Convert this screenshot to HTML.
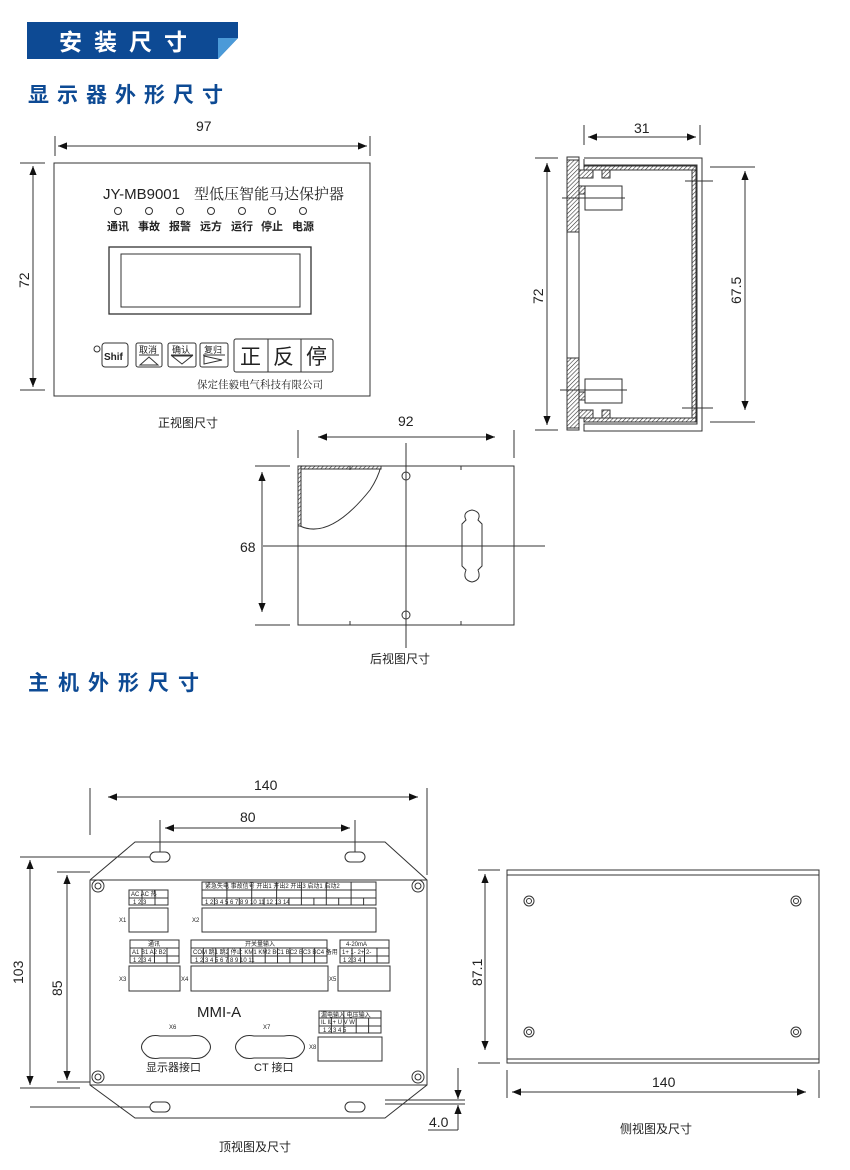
<!DOCTYPE html>
<html><head><meta charset="utf-8"><style>
body{margin:0;background:#fff}
svg{display:block}
text{font-family:"Liberation Sans","Noto Sans CJK SC",sans-serif;fill:#222}
.s{font-family:"Liberation Serif","Noto Serif CJK SC",serif}
</style></head><body>
<svg width="850" height="1170" viewBox="0 0 850 1170" xmlns="http://www.w3.org/2000/svg">
<defs>
<marker id="a" viewBox="0 0 10 10" refX="10" refY="5" markerWidth="9" markerHeight="9" orient="auto-start-reverse" markerUnits="userSpaceOnUse"><path d="M0,1L10,5L0,9z" fill="#111"/></marker>
<pattern id="h" width="3" height="3" patternUnits="userSpaceOnUse" patternTransform="rotate(45)"><rect width="3" height="3" fill="#fff"/><line x1="0" y1="0" x2="0" y2="3" stroke="#333" stroke-width="1.2"/></pattern>
</defs>
<g fill="none" stroke="#333" stroke-width="1">
<rect x="27" y="22" width="211" height="37" fill="#0d4a94" stroke="none"/>
<polygon points="218,59 238,38 238,59" fill="#fff" stroke="none"/>
<polygon points="218,59 238,38 218,38" fill="#4b9ad8" stroke="none"/>
</g>
<text x="59" y="50" font-size="23" font-weight="bold" style="fill:#fff;letter-spacing:12px">安装尺寸</text>
<text x="28" y="102" font-size="21" font-weight="bold" style="fill:#0d4a94;letter-spacing:8px">显示器外形尺寸</text>
<text x="28" y="690" font-size="21" font-weight="bold" style="fill:#0d4a94;letter-spacing:9px">主机外形尺寸</text>

<g fill="none" stroke="#333" stroke-width="1">
<rect x="54" y="163" width="316" height="233"/>
<line x1="55" y1="136" x2="55" y2="156"/><line x1="370" y1="136" x2="370" y2="156"/>
<line x1="58" y1="146" x2="367" y2="146" marker-start="url(#a)" marker-end="url(#a)"/>
<line x1="20" y1="163" x2="45" y2="163"/><line x1="20" y1="390" x2="45" y2="390"/>
<line x1="33" y1="166" x2="33" y2="387" marker-start="url(#a)" marker-end="url(#a)"/>
<g><circle cx="118" cy="211" r="3.5"/><circle cx="149" cy="211" r="3.5"/><circle cx="180" cy="211" r="3.5"/><circle cx="211" cy="211" r="3.5"/><circle cx="242" cy="211" r="3.5"/><circle cx="272" cy="211" r="3.5"/><circle cx="303" cy="211" r="3.5"/></g>
<rect x="109" y="247" width="202" height="67" stroke-width="1.3"/>
<rect x="121" y="254" width="179" height="53"/>
<circle cx="97" cy="349" r="3"/>
<rect x="102" y="343" width="26" height="24" rx="3"/>
<rect x="136" y="343" width="26" height="24" rx="2"/>
<rect x="168" y="343" width="28" height="24" rx="2"/>
<rect x="200" y="343" width="28" height="24" rx="2"/>
<path d="M140,365 L158,365 L149,357z"/><path d="M172,356 L192,356 L182,364z"/><path d="M204,356 L204,364 L222,360z"/>
<line x1="139" y1="355" x2="159" y2="355"/><line x1="171" y1="355" x2="193" y2="355"/><line x1="203" y1="355" x2="225" y2="355"/>
<rect x="234" y="339" width="99" height="33" rx="2"/>
<line x1="268" y1="339" x2="268" y2="372"/><line x1="301" y1="339" x2="301" y2="372"/>
<rect x="567" y="157" width="12" height="273"/>
<rect x="567" y="160" width="12" height="72" fill="url(#h)"/>
<rect x="567" y="358" width="12" height="70" fill="url(#h)"/>
<path d="M584,159 L584,165 L697,165 L697,424 L584,424 L584,431 L702,431 L702,158 L584,158"/>
<rect x="584" y="166" width="112" height="4" fill="url(#h)"/>
<rect x="584" y="418" width="112" height="4" fill="url(#h)"/>
<rect x="692" y="170" width="4" height="248" fill="url(#h)"/>
<rect x="579" y="170" width="14" height="8" fill="url(#h)"/><rect x="602" y="170" width="8" height="8" fill="url(#h)"/>
<rect x="579" y="410" width="14" height="8" fill="url(#h)"/><rect x="602" y="410" width="8" height="8" fill="url(#h)"/>
<rect x="579" y="186" width="6" height="8" fill="url(#h)"/><rect x="579" y="392" width="6" height="8" fill="url(#h)"/>
<rect x="585" y="186" width="37" height="24"/><rect x="585" y="379" width="37" height="24"/>
<line x1="562" y1="198" x2="625" y2="198"/><line x1="560" y1="390" x2="627" y2="390"/>
<line x1="685" y1="181" x2="713" y2="181"/><line x1="682" y1="408" x2="713" y2="408"/>
<line x1="584" y1="125" x2="584" y2="145"/><line x1="700" y1="125" x2="700" y2="145"/>
<line x1="588" y1="137" x2="696" y2="137" marker-start="url(#a)" marker-end="url(#a)"/>
<line x1="535" y1="158" x2="558" y2="158"/><line x1="535" y1="430" x2="558" y2="430"/>
<line x1="547" y1="163" x2="547" y2="425" marker-start="url(#a)" marker-end="url(#a)"/>
<line x1="710" y1="167" x2="755" y2="167"/><line x1="710" y1="422" x2="755" y2="422"/>
<line x1="745" y1="171" x2="745" y2="410" marker-start="url(#a)" marker-end="url(#a)"/>
<rect x="298" y="466" width="216" height="159"/>
<line x1="406" y1="443" x2="406" y2="648"/><line x1="263" y1="546" x2="545" y2="546"/>
<line x1="298" y1="430" x2="298" y2="458"/><line x1="514" y1="430" x2="514" y2="458"/>
<line x1="318" y1="437" x2="495" y2="437" marker-start="url(#a)" marker-end="url(#a)"/>
<line x1="255" y1="466" x2="290" y2="466"/><line x1="255" y1="625" x2="290" y2="625"/>
<line x1="262" y1="472" x2="262" y2="612" marker-start="url(#a)" marker-end="url(#a)"/>
<path d="M300,466 L300,526 Q330,540 370,490 Q378,478 381,466" />
<rect x="298" y="466" width="3" height="60" fill="url(#h)"/>
<rect x="301" y="466" width="80" height="3" fill="url(#h)"/>
<circle cx="406" cy="476" r="4"/><circle cx="406" cy="615" r="4"/>
<line x1="350" y1="466" x2="350" y2="470"/><line x1="461" y1="466" x2="461" y2="470"/>
<line x1="350" y1="621" x2="350" y2="625"/><line x1="461" y1="621" x2="461" y2="625"/>
<path d="M466,520 Q462,512 472,510 Q482,512 478,520 L482,524 L482,566 L478,570 Q482,580 472,582 Q462,580 466,570 L462,566 L462,524z"/>
<path d="M90,880 L135,842 L385,842 L427,880 L427,1085 L385,1118 L135,1118 L90,1085z"/>
<line x1="90" y1="880" x2="427" y2="880"/><line x1="90" y1="1085" x2="427" y2="1085"/>
<rect x="150" y="852" width="20" height="10" rx="5"/><rect x="345" y="852" width="20" height="10" rx="5"/>
<rect x="150" y="1102" width="20" height="10" rx="5"/><rect x="345" y="1102" width="20" height="10" rx="5"/>
<g><circle cx="98" cy="886" r="6"/><circle cx="98" cy="886" r="3"/><circle cx="418" cy="886" r="6"/><circle cx="418" cy="886" r="3"/><circle cx="98" cy="1077" r="6"/><circle cx="98" cy="1077" r="3"/><circle cx="418" cy="1077" r="6"/><circle cx="418" cy="1077" r="3"/></g>
<line x1="90" y1="788" x2="90" y2="835"/><line x1="427" y1="788" x2="427" y2="875"/>
<line x1="108" y1="797" x2="418" y2="797" marker-start="url(#a)" marker-end="url(#a)"/>
<line x1="160" y1="820" x2="160" y2="852"/><line x1="355" y1="820" x2="355" y2="852"/>
<line x1="165" y1="828" x2="350" y2="828" marker-start="url(#a)" marker-end="url(#a)"/>
<line x1="20" y1="857" x2="150" y2="857"/><line x1="20" y1="1088" x2="80" y2="1088"/>
<line x1="30" y1="860" x2="30" y2="1085" marker-start="url(#a)" marker-end="url(#a)"/>
<line x1="57" y1="872" x2="90" y2="872"/><line x1="57" y1="1082" x2="90" y2="1082"/>
<line x1="67" y1="875" x2="67" y2="1080" marker-start="url(#a)" marker-end="url(#a)"/>
<line x1="30" y1="1107" x2="150" y2="1107"/>
<line x1="385" y1="1100" x2="465" y2="1100"/><line x1="385" y1="1104" x2="465" y2="1104"/>
<line x1="458" y1="1068" x2="458" y2="1099" marker-end="url(#a)"/>
<line x1="458" y1="1130" x2="458" y2="1105" marker-end="url(#a)"/>
<line x1="428" y1="1130" x2="458" y2="1130"/>
<!-- connectors -->
<rect x="129" y="890" width="39" height="15"/><line x1="129" y1="898" x2="168" y2="898"/><line x1="142" y1="890" x2="142" y2="905"/><line x1="155" y1="890" x2="155" y2="905"/>
<rect x="129" y="908" width="39" height="24"/>
<rect x="202" y="882" width="174" height="23"/><line x1="202" y1="890" x2="376" y2="890"/><line x1="202" y1="898" x2="376" y2="898"/>
<path d="M214.4,898V905M226.9,898V905M239.3,898V905M251.7,882V905M264.1,898V905M276.6,882V905M289,898V905M301.4,882V905M313.9,898V905M326.3,882V905M338.7,898V905M351.1,882V905M363.6,898V905M226.9,882V898"/>
<rect x="202" y="908" width="174" height="24"/>
<rect x="130" y="940" width="49" height="23"/><line x1="130" y1="948" x2="179" y2="948"/><line x1="130" y1="956" x2="179" y2="956"/>
<path d="M142,948V963M154.5,948V963M167,948V963"/>
<rect x="129" y="966" width="51" height="25"/>
<rect x="191" y="940" width="136" height="23"/><line x1="191" y1="948" x2="327" y2="948"/><line x1="191" y1="956" x2="327" y2="956"/>
<path d="M203.4,948V963M215.7,948V963M228.1,948V963M240.5,948V963M252.8,948V963M265.2,948V963M277.5,948V963M289.9,948V963M302.3,948V963M314.6,948V963"/>
<rect x="191" y="966" width="137" height="25"/>
<rect x="340" y="940" width="49" height="23"/><line x1="340" y1="948" x2="389" y2="948"/><line x1="340" y1="956" x2="389" y2="956"/>
<path d="M352,948V963M364.5,948V963M377,948V963"/>
<rect x="338" y="966" width="52" height="25"/>
<rect x="319" y="1011" width="62" height="22"/><line x1="319" y1="1018" x2="381" y2="1018"/><line x1="319" y1="1026" x2="381" y2="1026"/>
<path d="M331.4,1018V1033M343.8,1011V1033M356.2,1018V1033M368.6,1018V1033"/>
<rect x="318" y="1037" width="64" height="24"/>
<path d="M145,1040 Q150,1034 160,1036 L190,1036 Q202,1034 207,1040 Q214,1047 207,1054 Q202,1060 190,1058 L160,1058 Q150,1060 145,1054 Q138,1047 145,1040z"/>
<path d="M239,1040 Q244,1034 254,1036 L284,1036 Q296,1034 301,1040 Q308,1047 301,1054 Q296,1060 284,1058 L254,1058 Q244,1060 239,1054 Q232,1047 239,1040z"/>
<rect x="507" y="870" width="312" height="193"/>
<line x1="507" y1="875" x2="819" y2="875"/><line x1="507" y1="1059" x2="819" y2="1059"/>
<g><circle cx="529" cy="901" r="5"/><circle cx="529" cy="901" r="2.5"/><circle cx="796" cy="901" r="5"/><circle cx="796" cy="901" r="2.5"/><circle cx="529" cy="1032" r="5"/><circle cx="529" cy="1032" r="2.5"/><circle cx="796" cy="1032" r="5"/><circle cx="796" cy="1032" r="2.5"/></g>
<line x1="478" y1="870" x2="500" y2="870"/><line x1="478" y1="1063" x2="500" y2="1063"/>
<line x1="485" y1="874" x2="485" y2="1050" marker-start="url(#a)" marker-end="url(#a)"/>
<line x1="507" y1="1070" x2="507" y2="1098"/><line x1="819" y1="1070" x2="819" y2="1098"/>
<line x1="512" y1="1092" x2="806" y2="1092" marker-start="url(#a)" marker-end="url(#a)"/>
</g>

<g font-size="14">
<text x="196" y="131">97</text>
<text x="0" y="0" transform="translate(29,288) rotate(-90)">72</text>
<text x="634" y="133">31</text>
<text x="0" y="0" transform="translate(543,304) rotate(-90)">72</text>
<text x="0" y="0" transform="translate(741,304) rotate(-90)">67.5</text>
<text x="398" y="426">92</text>
<text x="240" y="552">68</text>
<text x="254" y="790">140</text>
<text x="240" y="822">80</text>
<text x="0" y="0" transform="translate(23,984) rotate(-90)">103</text>
<text x="0" y="0" transform="translate(62,996) rotate(-90)">85</text>
<text x="0" y="0" transform="translate(482,986) rotate(-90)">87.1</text>
<text x="652" y="1087">140</text>
<text x="429" y="1127">4.0</text>
</g>
<text x="103" y="199" font-size="15">JY-MB9001</text>
<text x="194" y="199" font-size="15" class="s">型低压智能马达保护器</text>
<g font-size="11" font-weight="bold" class="s">
<text x="107" y="230">通讯</text><text x="138" y="230">事故</text><text x="169" y="230">报警</text><text x="200" y="230">远方</text><text x="231" y="230">运行</text><text x="261" y="230">停止</text><text x="292" y="230">电源</text>
</g>
<text x="104" y="360" font-size="10" font-weight="bold">Shif</text>
<g font-size="9" class="s"><text x="139" y="353">取消</text><text x="172" y="353">确认</text><text x="204" y="353">复归</text></g>
<g font-size="21" class="s"><text x="240" y="364">正</text><text x="273" y="364">反</text><text x="306" y="364">停</text></g>
<text x="197" y="388" font-size="10.5" class="s">保定佳毅电气科技有限公司</text>
<text x="158" y="427" font-size="12">正视图尺寸</text>
<text x="370" y="663" font-size="12">后视图尺寸</text>
<g font-size="6">
<text x="131" y="896">AC AC 热</text><text x="133" y="904">1    2    3</text>
<text x="205" y="888">紧急失电 事故信号 开出1 开出2 开出3 启动1 启动2</text>
<text x="205" y="904">1  2  3  4  5  6  7  8  9  10 11 12 13 14</text>
<text x="148" y="946">通讯</text><text x="132" y="954">A1 B1 A2 B2</text><text x="133" y="962">1   2   3   4</text>
<text x="245" y="946">开关量输入</text><text x="193" y="954">COM 跳1 跳2 停止 KM1 KM2 BC1 BC2 BC3 BC4 备用</text><text x="195" y="962">1  2  3  4  5  6  7  8  9  10 11</text>
<text x="346" y="946">4-20mA</text><text x="342" y="954">1+ 1- 2+ 2-</text><text x="343" y="962">1   2   3   4</text>
<text x="321" y="1017">漏电输入  电压输入</text><text x="321" y="1024">IL IL+ U  V  W</text><text x="323" y="1032">1  2  3  4  5</text>
<text x="119" y="922">X1</text><text x="192" y="922">X2</text><text x="119" y="981">X3</text><text x="181" y="981">X4</text><text x="329" y="981">X5</text><text x="169" y="1029">X6</text><text x="263" y="1029">X7</text><text x="309" y="1049">X8</text>
</g>
<text x="197" y="1017" font-size="15">MMI-A</text>
<text x="146" y="1071" font-size="11">显示器接口</text>
<text x="254" y="1071" font-size="11">CT 接口</text>
<text x="219" y="1151" font-size="12">顶视图及尺寸</text>
<text x="620" y="1133" font-size="12">侧视图及尺寸</text>
</svg>
</body></html>
